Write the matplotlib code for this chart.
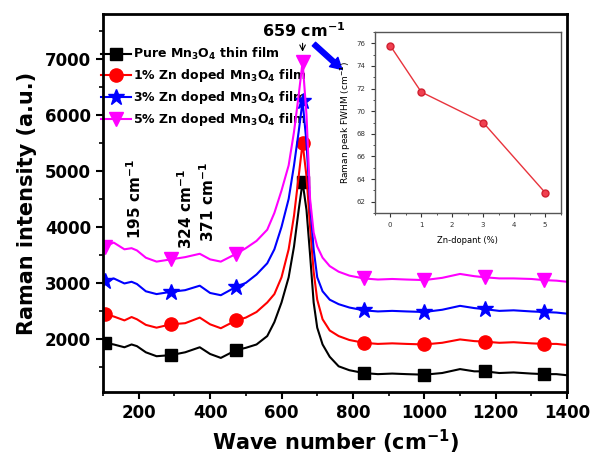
import matplotlib
matplotlib.use("Agg")
import matplotlib.pyplot as plt
from matplotlib.ticker import MultipleLocator

plt.rcParams['font.family'] = ['DejaVu Sans']
plt.rcParams['font.weight'] = 'bold'
plt.rcParams['mathtext.fontset'] = 'dejavusans'
plt.rcParams['mathtext.default'] = 'bf'

# Raman shift grid (cm-1)
wave = [100, 105, 130, 160, 180, 195, 220, 250, 290, 330, 371, 400, 430, 473, 500,
        530, 560, 580, 600, 620, 635, 648, 659, 670, 680, 690, 700, 715, 735, 760,
        790, 830, 870, 910, 950, 1000, 1050, 1100, 1140, 1170, 1210, 1250, 1300,
        1335, 1370, 1400]

pure = [1950, 1930, 1900, 1850, 1900, 1870, 1760, 1690, 1710, 1760, 1850, 1730, 1660,
        1800, 1840, 1900, 2050, 2300, 2650, 3100, 3650, 4300, 4800, 4300, 3500, 2650,
        2200, 1900, 1680, 1510, 1440, 1390, 1370, 1380, 1370, 1360, 1390, 1460, 1420,
        1420, 1390, 1400, 1380, 1370, 1370, 1350]
zn1 = [2460, 2440, 2400, 2330, 2390, 2350, 2250, 2200, 2260, 2280, 2380, 2260, 2190,
       2330, 2380, 2480, 2650, 2800, 3100, 3600, 4200, 4900, 5500, 4900, 4000, 3200,
       2700, 2350, 2150, 2050, 1980, 1930, 1910, 1920, 1910, 1900, 1930, 1990, 1960,
       1950, 1930, 1940, 1920, 1910, 1910, 1890]
zn3 = [3050, 3030, 3080, 2990, 3020, 2980, 2850, 2800, 2840, 2870, 2950, 2820, 2780,
       2930, 3000, 3150, 3350, 3600, 4000, 4500, 5100, 5700, 6250, 5500, 4400, 3600,
       3100, 2850, 2700, 2620, 2560, 2510, 2490, 2500, 2490, 2480, 2520, 2590, 2550,
       2530, 2500, 2510, 2490, 2480, 2470, 2450]
zn5 = [3600, 3650, 3720, 3600, 3620, 3580, 3450, 3380, 3420, 3460, 3520, 3420, 3380,
       3520, 3620, 3750, 3950, 4250, 4650, 5100, 5700, 6350, 6950, 6000, 4500, 3900,
       3650, 3450, 3300, 3200, 3130, 3080, 3060, 3070, 3060, 3050, 3090, 3160, 3120,
       3100, 3080, 3080, 3070, 3050, 3040, 3020]

marker_wave = [105, 290, 473, 659, 830, 1000, 1170, 1335]

labels = ['Pure Mn$_3$O$_4$ thin film', '1% Zn doped Mn$_3$O$_4$ film',
          '3% Zn doped Mn$_3$O$_4$ film', '5% Zn doped Mn$_3$O$_4$ film']

# inset: FWHM vs Zn content
dopant = [0, 1, 3, 5]
fwhm = [75.8, 71.7, 69.0, 62.8]

fig = plt.figure(figsize=(5.92, 4.58), dpi=100)
ax = fig.add_axes([0.174, 0.144, 0.784, 0.825])

mark_idx = [wave.index(w) for w in marker_wave]
styles = [('black', 's', 8), ('red', 'o', 9.5), ('blue', '*', 12), ('magenta', 'v', 9.5)]
for series, (col, mk, ms), lab in zip([pure, zn1, zn3, zn5], styles, labels):
    ax.plot(wave, series, color=col, lw=1.5, marker=mk, ms=ms, markevery=mark_idx,
            label=lab)

ax.set_xlim(100, 1400)
ax.set_ylim(1050, 7800)
ax.xaxis.set_major_locator(MultipleLocator(200))
ax.xaxis.set_minor_locator(MultipleLocator(100))
ax.yaxis.set_minor_locator(MultipleLocator(500))
ax.set_yticks([2000, 3000, 4000, 5000, 6000, 7000])
ax.tick_params(which='major', direction='out', length=5, width=1.5, labelsize=12)
ax.tick_params(which='minor', direction='out', length=3, width=1.2)
for s in ax.spines.values():
    s.set_linewidth(2)

ax.set_xlabel('Wave number (cm$^{-1}$)', fontsize=15, fontweight='bold', labelpad=4)
ax.set_ylabel('Raman intensity (a.u.)', fontsize=15, fontweight='bold', labelpad=6)

leg = ax.legend(loc='upper left', bbox_to_anchor=(-0.005, 0.915), frameon=False,
                fontsize=9, handlelength=2.4, handletextpad=0.2, labelspacing=0.4,
                borderaxespad=0, borderpad=0)
leg.set_zorder(1)

# peak labels
ax.text(190, 3790, '195 cm$^{-1}$', rotation=90, ha='center', va='bottom', fontsize=11)
ax.text(332, 3600, '324 cm$^{-1}$', rotation=90, ha='center', va='bottom', fontsize=11)
ax.text(393, 3730, '371 cm$^{-1}$', rotation=90, ha='center', va='bottom', fontsize=11)
ax.text(662, 7500, '659 cm$^{-1}$', ha='center', va='center', fontsize=11.5)
ax.annotate('', xy=(659, 7080), xytext=(659, 7330),
            arrowprops=dict(arrowstyle='->', color='black', lw=0.8))
ax.annotate('', xy=(775, 6780), xytext=(685, 7300),
            arrowprops=dict(arrowstyle='simple,head_width=0.9,head_length=0.8,tail_width=0.35',
                            color='blue'))

# inset
ins = fig.add_axes([0.633, 0.535, 0.314, 0.395])
ins.plot(dopant, fwhm, color='#e8333c', lw=1, marker='o', ms=5,
         mfc='#f04050', mec='#d02030')
ins.set_xlim(-0.5, 5.5)
ins.set_ylim(61, 77)
ins.set_xticks([0, 1, 2, 3, 4, 5])
ins.xaxis.set_minor_locator(MultipleLocator(0.5))
ins.set_yticks(range(62, 77, 2))
ins.yaxis.set_minor_locator(MultipleLocator(1))
ins.tick_params(which='major', direction='out', length=3, width=0.8, labelsize=5,
                colors='#333333')
ins.tick_params(which='minor', direction='out', length=1.5, width=0.6, colors='#333333')
for s in ins.spines.values():
    s.set_linewidth(1)
    s.set_color('#555555')
ins.set_xlabel('Zn-dopant (%)', fontsize=6, fontweight='normal', labelpad=6)
ins.set_ylabel('Raman peak FWHM (cm$^{-1}$)', fontsize=6.5, fontweight='normal', labelpad=3)
for t in ins.get_xticklabels() + ins.get_yticklabels():
    t.set_fontweight('normal')

fig.savefig('out.png', dpi=100)
